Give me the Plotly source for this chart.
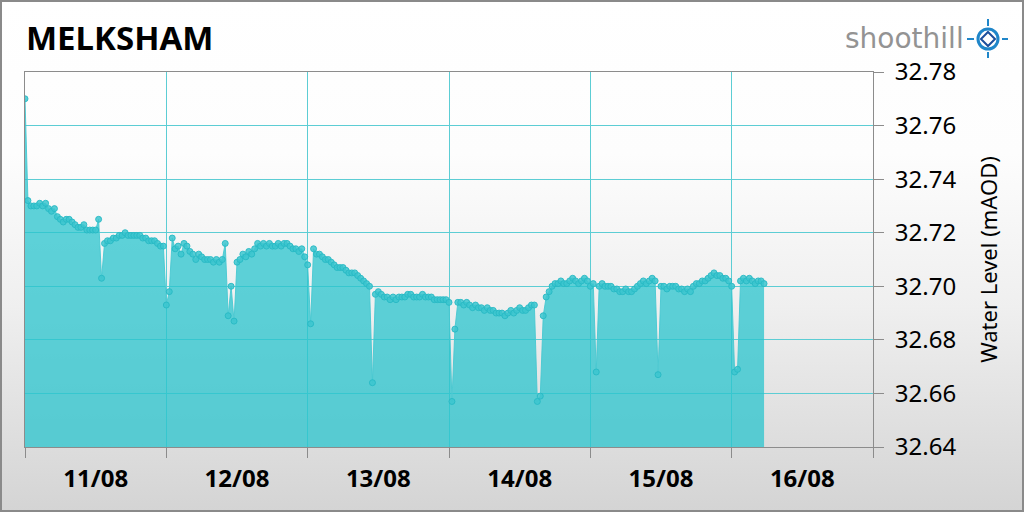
import base64
import pandas as pd
import plotly.graph_objects as go

# ---------------- data ----------------
station = "MELKSHAM"
y_title = "Water Level (mAOD)"
start = "2023-08-11 00:00"
step = "30min"
x_range = ["2023-08-11 00:00", "2023-08-17 00:00"]
y_range = [32.64, 32.78]
y_step = 0.02

day_11 = [32.770, 32.732, 32.730, 32.730, 32.730, 32.731, 32.730, 32.731, 32.729, 32.728,
          32.729, 32.726, 32.725, 32.724, 32.725, 32.725, 32.724, 32.723, 32.722, 32.722,
          32.723, 32.721, 32.721, 32.721, 32.721, 32.725, 32.703, 32.716, 32.717, 32.717,
          32.718, 32.718, 32.719, 32.719, 32.720, 32.719, 32.719, 32.719, 32.719, 32.719,
          32.718, 32.718, 32.717, 32.717, 32.717, 32.716, 32.715, 32.715]
day_12 = [32.693, 32.698, 32.718, 32.714, 32.715, 32.712, 32.716, 32.715, 32.713, 32.712,
          32.710, 32.712, 32.711, 32.710, 32.710, 32.710, 32.709, 32.710, 32.709, 32.710,
          32.716, 32.689, 32.700, 32.687, 32.709, 32.710, 32.712, 32.711, 32.713, 32.712,
          32.714, 32.716, 32.715, 32.716, 32.715, 32.716, 32.715, 32.715, 32.716, 32.715,
          32.716, 32.716, 32.715, 32.714, 32.714, 32.713, 32.714, 32.711]
day_13 = [32.708, 32.686, 32.714, 32.712, 32.712, 32.711, 32.710, 32.710, 32.709, 32.708,
          32.707, 32.707, 32.707, 32.706, 32.705, 32.705, 32.705, 32.704, 32.703, 32.702,
          32.701, 32.700, 32.664, 32.697, 32.698, 32.697, 32.696, 32.696, 32.695, 32.696,
          32.695, 32.696, 32.696, 32.696, 32.697, 32.697, 32.696, 32.696, 32.696, 32.697,
          32.696, 32.696, 32.696, 32.695, 32.695, 32.695, 32.695, 32.695]
day_14 = [32.694, 32.657, 32.684, 32.694, 32.694, 32.693, 32.694, 32.693, 32.692, 32.693,
          32.692, 32.692, 32.691, 32.692, 32.691, 32.691, 32.690, 32.690, 32.690, 32.689,
          32.690, 32.691, 32.690, 32.691, 32.692, 32.691, 32.691, 32.692, 32.693, 32.693,
          32.657, 32.659, 32.689, 32.696, 32.698, 32.700, 32.701, 32.701, 32.702, 32.701,
          32.701, 32.702, 32.703, 32.702, 32.701, 32.702, 32.703, 32.702]
day_15 = [32.700, 32.701, 32.668, 32.700, 32.701, 32.700, 32.700, 32.700, 32.699, 32.699,
          32.698, 32.698, 32.699, 32.698, 32.698, 32.699, 32.700, 32.701, 32.702, 32.701,
          32.702, 32.703, 32.702, 32.667, 32.700, 32.700, 32.699, 32.700, 32.700, 32.700,
          32.699, 32.699, 32.698, 32.699, 32.698, 32.700, 32.701, 32.701, 32.702, 32.702,
          32.703, 32.704, 32.705, 32.704, 32.704, 32.703, 32.703, 32.702]
day_16 = [32.700, 32.668, 32.669, 32.702, 32.703, 32.702, 32.703, 32.702, 32.701, 32.702,
          32.702, 32.701]

levels = day_11 + day_12 + day_13 + day_14 + day_15 + day_16
times = pd.date_range(start, periods=len(levels), freq=step)

# ---------------- styles ----------------
W, H = 1024, 512
ML, MR, MT, MB = 25, 151, 72, 65
PW, PH = W - ML - MR, H - MT - MB
GRID = "#5ccdd4"
AXIS = "#8c8c8c"
FONT = "Noto Sans"


def px(x):
    return (x - ML) / PW


def py(y):
    return (H - MB - y) / PH


svg = ('<svg xmlns="http://www.w3.org/2000/svg" width="1024" height="512" preserveAspectRatio="none">'
       '<defs><linearGradient id="g" x1="0" y1="0" x2="0" y2="1">'
       '<stop offset="0" stop-color="#ffffff"/><stop offset="0.3" stop-color="#fdfdfd"/>'
       '<stop offset="0.6" stop-color="#efefef"/><stop offset="1" stop-color="#d4d4d4"/>'
       '</linearGradient></defs><rect width="1024" height="512" fill="url(#g)"/></svg>')
bg_src = "data:image/svg+xml;base64," + base64.b64encode(svg.encode()).decode()

fig = go.Figure()
fig.add_trace(go.Scatter(
    x=times, y=levels, mode="lines+markers",
    fill="tozeroy", fillcolor="rgba(42,196,206,0.75)",
    line=dict(color="rgba(70,200,208,0.9)", width=1),
    marker=dict(size=6, color="rgba(60,198,207,0.85)",
                line=dict(width=1, color="rgba(40,185,196,0.9)")),
    hoverinfo="skip", showlegend=False,
))

fig.update_layout(
    width=W, height=H,
    margin=dict(l=ML, r=MR, t=MT, b=MB),
    paper_bgcolor="white", plot_bgcolor="rgba(0,0,0,0)",
    images=[dict(source=bg_src, xref="paper", yref="paper", x=px(0), y=py(0),
                 sizex=W / PW, sizey=H / PH, xanchor="left", yanchor="top",
                 sizing="stretch", layer="below")],
    xaxis=dict(
        type="date", range=x_range, dtick=86400000, tick0=x_range[0],
        tickformat="%d/%m", ticklabelmode="period",
        ticks="outside", ticklen=10, tickcolor=AXIS, tickwidth=1,
        showgrid=True, gridcolor=GRID, gridwidth=1,
        showline=True, linecolor=AXIS, linewidth=1, mirror=True,
        tickfont=dict(family=FONT, size=24, color="black", weight="bold"),
        zeroline=False, fixedrange=True,
    ),
    yaxis=dict(
        side="right", range=y_range, dtick=y_step, tick0=y_range[0],
        tickformat=".2f", ticks="outside", ticklen=10, tickcolor=AXIS, tickwidth=1,
        ticklabelstandoff=6,
        showgrid=True, gridcolor=GRID, gridwidth=1,
        showline=True, linecolor=AXIS, linewidth=1, mirror=True,
        tickfont=dict(family=FONT, size=24, color="black"),
        title=dict(text=y_title, font=dict(family=FONT, size=22, color="black"), standoff=26),
        zeroline=False, fixedrange=True,
    ),
    annotations=[
        dict(text=station, xref="paper", yref="paper", x=px(24), y=py(37),
             xanchor="left", yanchor="middle", showarrow=False,
             font=dict(family=FONT, size=33, color="black", weight="bold")),
        dict(text="shoothill", xref="paper", yref="paper", x=px(904), y=py(38),
             xanchor="center", yanchor="middle", showarrow=False,
             font=dict(family="DejaVu Sans ExtraLight, DejaVu Sans", size=28, color="#939393")),
    ],
    shapes=[
        dict(type="rect", xref="paper", yref="paper", x0=px(1), x1=px(1023), y0=py(511), y1=py(1),
             line=dict(color="#8a8a8a", width=2), layer="above"),
        dict(type="circle", xref="paper", yref="paper", x0=px(978), x1=px(998), y0=py(49), y1=py(29),
             line=dict(color="#1f86c9", width=3)),
        dict(type="path", xref="paper", yref="paper",
             path=f"M {px(988)},{py(32)} L {px(995)},{py(39)} L {px(988)},{py(46)} L {px(981)},{py(39)} Z",
             line=dict(color="#1c4f9c", width=2)),
        dict(type="line", xref="paper", yref="paper", x0=px(988), x1=px(988), y0=py(19), y1=py(26),
             line=dict(color="#1f86c9", width=2)),
        dict(type="line", xref="paper", yref="paper", x0=px(988), x1=px(988), y0=py(52), y1=py(58),
             line=dict(color="#1f86c9", width=2)),
        dict(type="line", xref="paper", yref="paper", x0=px(967), x1=px(974), y0=py(39), y1=py(39),
             line=dict(color="#1f86c9", width=2)),
        dict(type="line", xref="paper", yref="paper", x0=px(1002), x1=px(1008), y0=py(39), y1=py(39),
             line=dict(color="#1f86c9", width=2)),
    ],
)

fig.write_html("out.html", config={"displayModeBar": False},
               post_script="document.body.style.margin='0';document.body.style.overflow='hidden';")
